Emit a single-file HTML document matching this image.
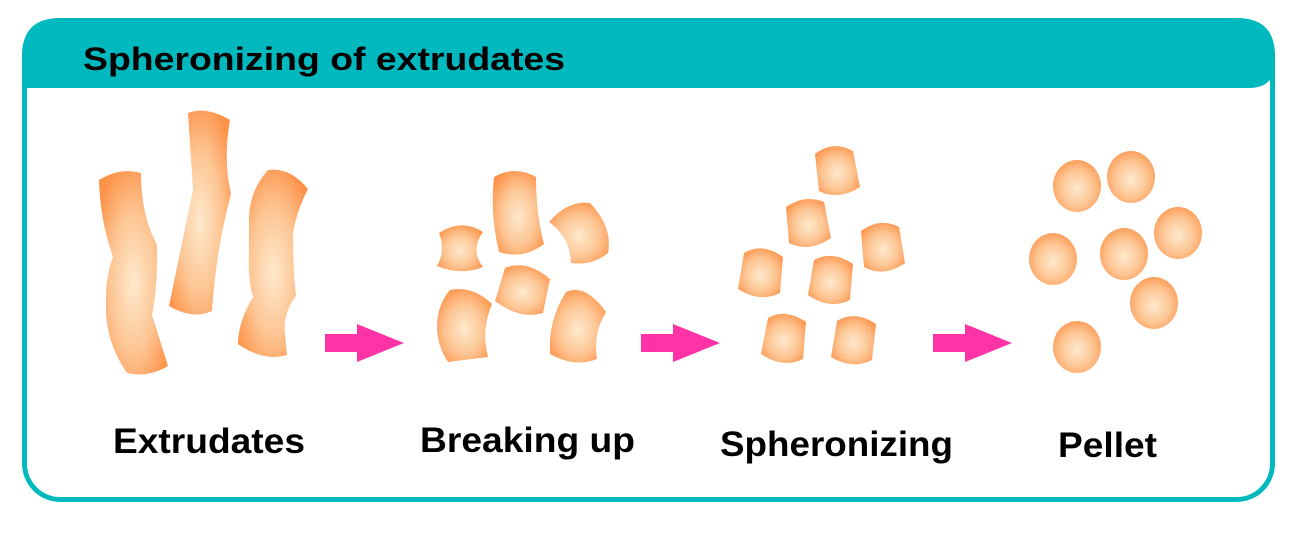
<!DOCTYPE html>
<html><head><meta charset="utf-8"><style>
html,body{margin:0;padding:0;background:#fff}
svg{display:block}
text{font-family:"Liberation Sans",Arial,sans-serif;font-weight:bold;fill:#000}
</style></head><body>
<svg width="1300" height="539" viewBox="0 0 1300 539" xmlns="http://www.w3.org/2000/svg">
<defs>
<radialGradient id="g" cx="0.5" cy="0.55" r="0.62" fx="0.5" fy="0.55">
<stop offset="0" stop-color="#fee9cd"/>
<stop offset="0.55" stop-color="#fdc593"/>
<stop offset="1" stop-color="#fd9248"/>
</radialGradient>
</defs>
<rect x="24.5" y="20.5" width="1248" height="479" rx="36" fill="#fff" stroke="#00b9bf" stroke-width="5"/>
<path d="M22,88 L22,56 Q22,18 60,18 L1237,18 Q1275,18 1275,56 L1275,62 Q1275,88 1249,88 Z" fill="#00b9bf"/>
<text x="83" y="70" font-size="32" textLength="482" lengthAdjust="spacingAndGlyphs">Spheronizing of extrudates</text>

<g fill="url(#g)">
<path d="M99,180 Q120,167 141,173 Q141,215 157,245 Q158,285 152,315 L168,366 Q148,378 127,373 Q104,340 106,300 Q106,275 113,257 Q100,220 99,180 Z"/>
<path d="M188,113 Q206,106 230,120 Q223,160 231,194 Q216,250 212,311 Q193,320 169,306 L193,190 Z"/>
<path d="M268,170 Q290,167 308,189 Q297,210 293,233 Q293,270 296,296 Q283,313 285,333 L287,355 Q264,362 238,344 Q238,322 253,297 Q248,280 249,257 L249,217 Q250,190 268,170 Z"/>
<path d="M439,233 Q461,218 483,232 Q470,250 483,267 Q461,276 437,266 Q446,250 439,233 Z"/>
<path d="M494,177 Q515,165 536,177 Q536,215 544,244 Q523,260 499,252 Q490,215 494,177 Z"/>
<path d="M549,222 Q568,200 590,203 Q613,227 608,253 Q592,266 571,263 Q570,237 549,222 Z"/>
<path d="M505,268 Q527,259 550,279 L543,313 Q520,320 495,301 Z"/>
<path d="M450,290 Q472,285 492,304 Q481,330 488,357 L448,362 Q437,345 437,327 Q437,305 450,290 Z"/>
<path d="M566,292 Q585,283 606,312 Q593,333 597,359 Q575,368 550,354 Q548,320 566,292 Z"/>
<path d="M815,154 Q833,140 853,151 L860,187 Q838,201 819,191 Z"/>
<path d="M786,207 Q805,194 824,202 L831,238 Q809,253 789,243 Z"/>
<path d="M861,231 Q880,217 899,227 L905,263 Q884,278 864,267 Z"/>
<path d="M744,253 Q762,242 783,257 L780,293 Q760,303 738,289 Z"/>
<path d="M814,260 Q832,250 853,264 L850,300 Q830,310 808,295 Z"/>
<path d="M768,318 Q785,308 806,322 L803,359 Q783,369 761,354 Z"/>
<path d="M837,321 Q855,310 876,324 L872,360 Q852,370 831,357 Z"/>
<ellipse cx="1077" cy="186" rx="24" ry="26"/>
<ellipse cx="1131" cy="177" rx="24" ry="26"/>
<ellipse cx="1053" cy="259" rx="24" ry="26"/>
<ellipse cx="1124" cy="254" rx="24" ry="26"/>
<ellipse cx="1178" cy="233" rx="24" ry="26"/>
<ellipse cx="1154" cy="303" rx="24" ry="26"/>
<ellipse cx="1077" cy="347" rx="24" ry="26"/>
</g>

<g fill="#ff33a6">
<path d="M325,334 L357,334 L357,324 L404,343 L357,362 L357,352 L325,352 Z"/>
<path d="M641,334 L673,334 L673,324 L720,343 L673,362 L673,352 L641,352 Z"/>
<path d="M933,334 L965,334 L965,324 L1012,343 L965,362 L965,352 L933,352 Z"/>
</g>

<text x="113" y="453" font-size="35" textLength="192" lengthAdjust="spacingAndGlyphs">Extrudates</text>
<text x="420" y="452" font-size="35" textLength="215" lengthAdjust="spacingAndGlyphs">Breaking up</text>
<text x="720" y="456" font-size="35" textLength="233" lengthAdjust="spacingAndGlyphs">Spheronizing</text>
<text x="1058" y="457" font-size="35" textLength="99" lengthAdjust="spacingAndGlyphs">Pellet</text>
</svg>
</body></html>
